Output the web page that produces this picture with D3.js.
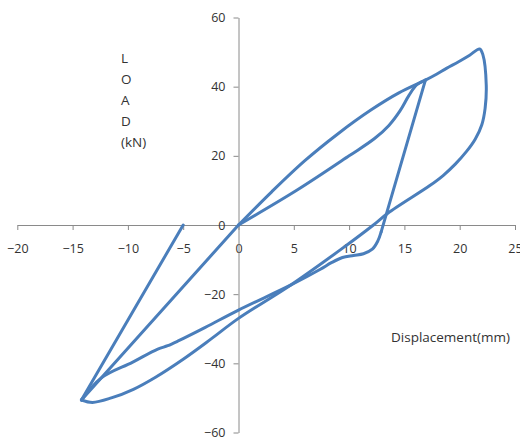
<!DOCTYPE html>
<html>
<head>
<meta charset="utf-8">
<script src="https://cdn.jsdelivr.net/npm/d3@7"></script>
<style>
  body { margin: 0; background: #fff; }
  text { font-family: "Open Sans", sans-serif; fill: #333; }
</style>
</head>
<body>
<div id="chart"></div>
<script>
// displacement (mm), load (kN) pairs, in loading order
var innerLoad = [[0,0],[5.3,10.1],[10,20],[12.3,25],[13.6,28.8],[14.6,33],[15.4,37.4],[16.1,40.5],[16.9,41.9]]
var firstUnload = [[16.9,41.9],[12.9,-2]]
var reverseCurve = [[12.9,-2],[12.6,-4.6],[12.1,-7],[11.3,-8.3],[10.4,-8.8],[9.4,-9.4],[8.4,-10.9],[7.4,-12.8],
    [4.7,-17.4],[0,-24.6],[-3,-29.6],[-5.5,-33.6],[-6.4,-34.9],[-7.3,-35.9],[-9.6,-39.7],[-12.4,-44.2],[-14.2,-50.6]]
var reload = [[-14.2,-50.6],[0,0]]
var envelope = [[0,0],[3,9.6],[6,18.6],[9,26.4],[12,33.3],[14.5,38.2],[16.9,41.9],[17.9,43.6],
    [18.8,45.3],[19.9,47.2],[20.9,49.1],[21.8,50.9],[22.1,49.2],[22.4,40.5],[22.3,33.8],[22,29],[21.4,24.8],
    [20.6,21.2],[19.6,17.6],[18.5,14.3],[17.3,11.4],[13.5,3.4],[12.2,0],[9.2,-7.2],[4.7,-17.4],[0,-27],
    [-2.5,-33],[-5,-38.8],[-7.5,-44],[-9.5,-47.5],[-11.5,-50],[-13.2,-51.3],[-14.2,-50.6]]
var finalUnload = [[-14.2,-50.6],[-5,0]]

var xTicks = [-20,-15,-10,-5,0,5,10,15,20,25]
var yTicks = [-60,-40,-20,0,20,40,60]
var yTitle = ["L","O","A","D","(kN)"]
var xTitle = "Displacement(mm)"

var width = 520,
    height = 437;

var svg = d3.select("#chart")
  .append("svg")
    .attr("width", width)
    .attr("height", height);

var x = d3.scaleLinear().domain([-20,25]).range([17.3,515]);
var y = d3.scaleLinear().domain([-60,60]).range([432.5,17.5]);

// x axis through zero load
svg.append("g")
  .attr("transform", "translate(0," + y(0) + ")")
  .call(d3.axisBottom(x).tickValues(xTicks).tickSize(5).tickSizeOuter(0).tickPadding(14));

// y axis through zero displacement
svg.append("g")
  .attr("transform", "translate(" + x(0) + ",0)")
  .call(d3.axisLeft(y).tickValues(yTicks).tickSize(5).tickSizeOuter(0).tickPadding(8));

svg.selectAll(".domain, .tick line").attr("stroke", "#8a8a8a");
svg.selectAll(".tick text")
  .style("font-family", "'Open Sans', sans-serif")
  .style("font-size", "12.5px")
  .attr("fill", "#333");

// axis titles
svg.selectAll(".ytitle")
  .data(yTitle)
  .enter()
  .append("text")
    .attr("class", "ytitle")
    .attr("x", 121)
    .attr("y", function(d, i) { return 58 + i * 21; })
    .attr("dy", "0.36em")
    .style("font-size", "13.5px")
    .text(function(d) { return d; });

svg.append("text")
  .attr("x", 391)
  .attr("y", 337)
  .attr("dy", "0.36em")
  .style("font-size", "13.5px")
  .text(xTitle);

var smooth = d3.line()
  .x(function(d) { return x(d[0]); })
  .y(function(d) { return y(d[1]); })
  .curve(d3.curveCatmullRom.alpha(0.5));

var straight = d3.line()
  .x(function(d) { return x(d[0]); })
  .y(function(d) { return y(d[1]); });

var pieces = [
  {pts: innerLoad, line: smooth},
  {pts: firstUnload, line: straight},
  {pts: reverseCurve, line: smooth},
  {pts: reload, line: straight},
  {pts: envelope, line: smooth},
  {pts: finalUnload, line: straight}
];

svg.selectAll(".loop")
  .data(pieces)
  .enter()
  .append("path")
    .attr("class", "loop")
    .attr("d", function(d) { return d.line(d.pts); })
    .attr("fill", "none")
    .attr("stroke", "#4a7ebb")
    .attr("stroke-width", 3)
    .attr("stroke-linejoin", "round")
    .attr("stroke-linecap", "round");
</script>
</body>
</html>
